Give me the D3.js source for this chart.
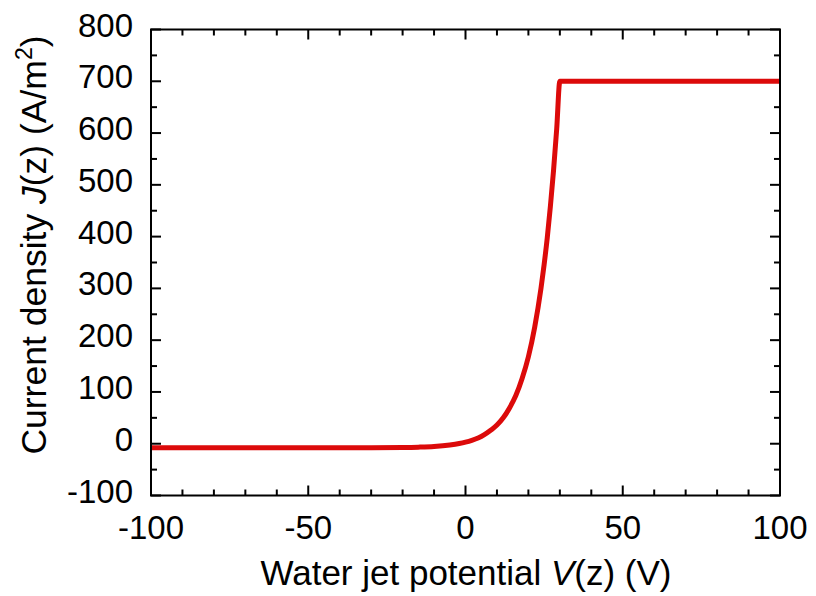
<!DOCTYPE html>
<html><head><meta charset="utf-8">
<script src="https://cdn.jsdelivr.net/npm/d3@7"></script>
<style>body{margin:0;background:#fff}svg{display:block}text{font-family:"Liberation Sans",Arial,sans-serif;fill:#000}</style>
</head><body><svg id="c" width="816" height="596"></svg>
<script>
// Data
const voltage = [-100,-60,-40,-30,-20,-15,-10,-5,-2,0,2,4,6,8,10,12,14,16,18,20,22,24,25,26,27,28,29,30,100];
const currentDensity = [-8,-8,-8,-7.8,-7.3,-6.6,-5.3,-2.5,0.3,3,6.5,11,17.5,26,36,50,69,93,126,168,225,300,346,398,459,528,608,700,700];
const xMajorTicks = [-100,-50,0,50,100];
const yMajorTicks = [-100,0,100,200,300,400,500,600,700,800];

const svg = d3.select('#c');
const L=151, R=780, T=29.5, B=495.5;
const x = d3.scaleLinear().domain([-100,100]).range([L,R]);
const y = d3.scaleLinear().domain([-100,800]).range([B,T]);

const xMinor = d3.range(-100,101,10);
const yMinor = d3.range(-100,801,50);

// ticks (inward, all four sides)
const g = svg.append('g').attr('stroke','#000').attr('stroke-width',2);
xMinor.forEach(v=>{
  const len = xMajorTicks.includes(v)?10:6;
  g.append('line').attr('x1',x(v)).attr('x2',x(v)).attr('y1',B).attr('y2',B-len);
  g.append('line').attr('x1',x(v)).attr('x2',x(v)).attr('y1',T).attr('y2',T+len);
});
yMinor.forEach(v=>{
  const len = yMajorTicks.includes(v)?10:6;
  g.append('line').attr('y1',y(v)).attr('y2',y(v)).attr('x1',L).attr('x2',L+len);
  g.append('line').attr('y1',y(v)).attr('y2',y(v)).attr('x1',R).attr('x2',R-len);
});

// curve
const line = d3.line().x((d,i)=>x(voltage[i])).y((d,i)=>y(currentDensity[i])).curve(d3.curveMonotoneX);
svg.append('path').datum(voltage).attr('d',line).attr('fill','none')
  .attr('stroke','#dc0a0a').attr('stroke-width',5).attr('stroke-linejoin','miter');

// frame
svg.append('rect').attr('x',L).attr('y',T).attr('width',R-L).attr('height',B-T)
  .attr('fill','none').attr('stroke','#000').attr('stroke-width',2);

// tick labels
svg.append('g').selectAll('text').data(xMajorTicks).join('text')
  .attr('x',d=>x(d)).attr('y',539).attr('text-anchor','middle').attr('font-size',33).text(d=>d);
svg.append('g').selectAll('text').data(yMajorTicks).join('text')
  .attr('x',133).attr('y',d=>y(d)+7).attr('text-anchor','end').attr('font-size',33).text(d=>d);

// axis titles
const xt = svg.append('text').attr('x',466).attr('y',585).attr('text-anchor','middle').attr('font-size',35);
xt.append('tspan').text('Water jet potential ');
xt.append('tspan').attr('font-style','italic').text('V');
xt.append('tspan').text('(z) (V)');

const yt = svg.append('text').attr('transform','translate(46,245) rotate(-90)').attr('text-anchor','middle').attr('font-size',35.5);
yt.append('tspan').text('Current density ');
yt.append('tspan').attr('font-style','italic').text('J');
yt.append('tspan').text('(z) (A/m');
yt.append('tspan').attr('font-size',23).attr('dy',-14).text('2');
yt.append('tspan').attr('dy',14).text(')');
</script></body></html>
